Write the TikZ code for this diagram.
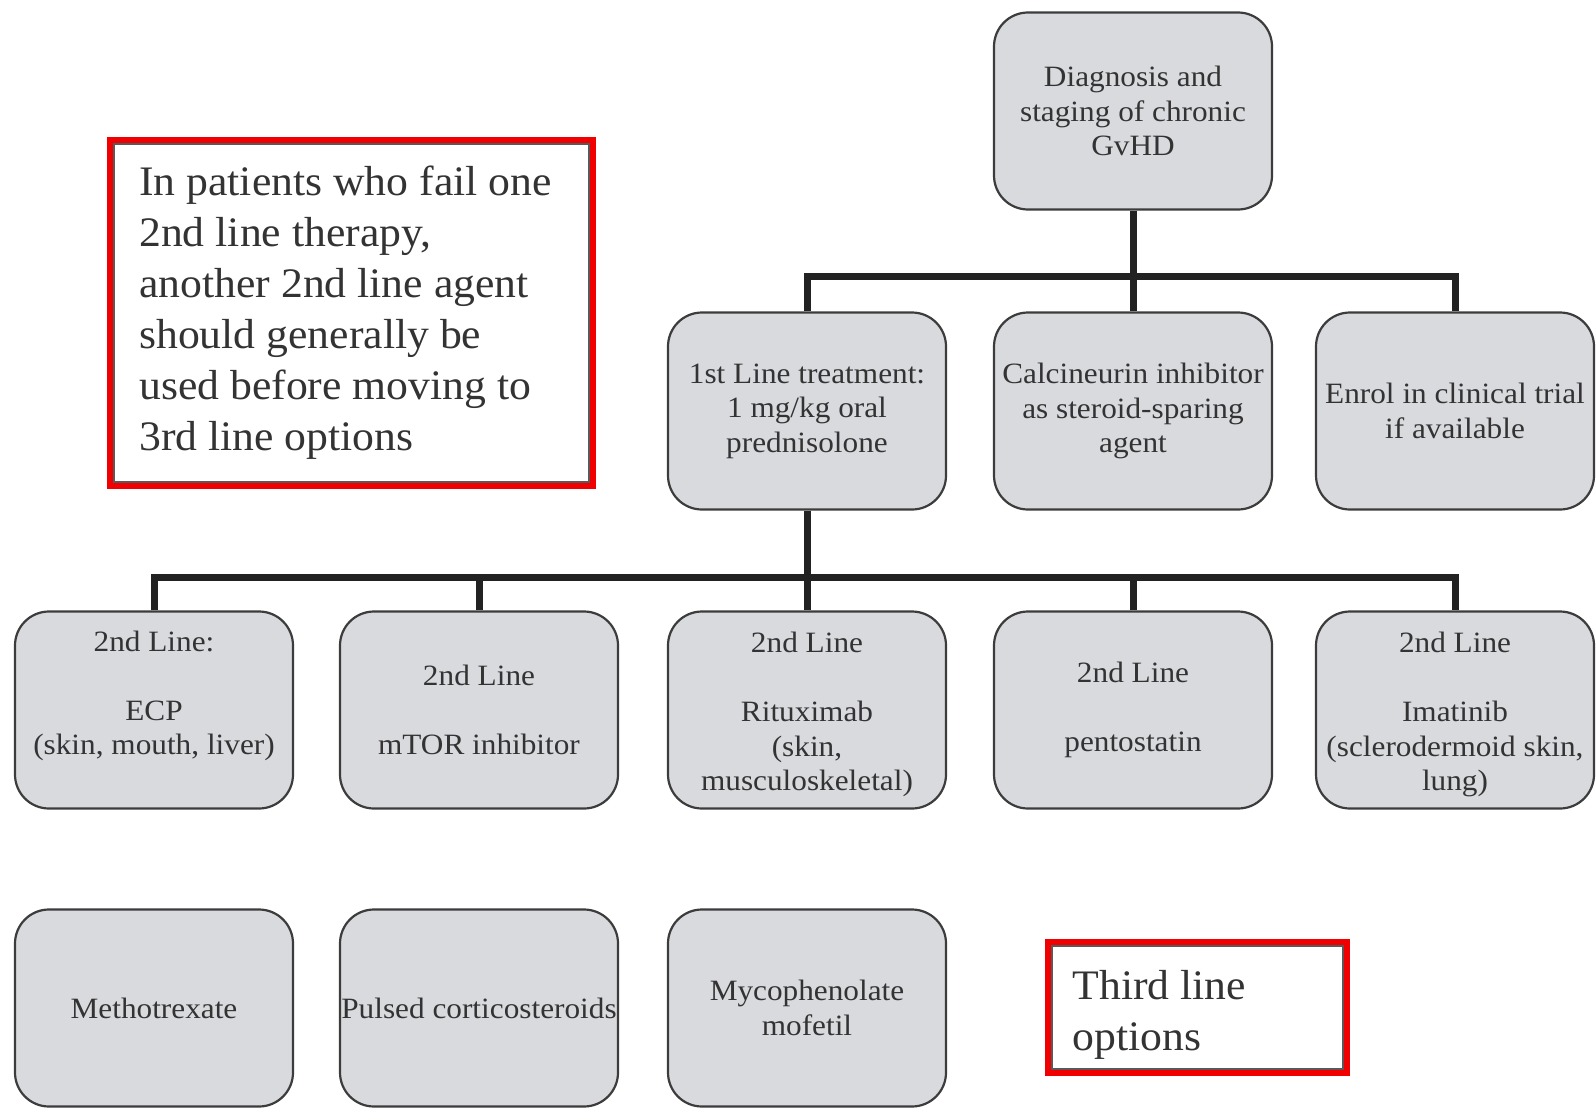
\documentclass[tikz,border=0pt]{standalone}
\usepackage{fontspec}
\setmainfont{Liberation Serif}
\newfontfamily\boxfont{Liberation Serif}[FakeStretch=1.06]
\newfontfamily\notefont{Liberation Serif}[FakeStretch=1.04]
\definecolor{boxfill}{HTML}{D9DADD}
\definecolor{boxline}{HTML}{3C3C3C}
\definecolor{txt}{HTML}{333333}
\definecolor{busc}{HTML}{222222}
\definecolor{redc}{HTML}{F00000}
\tikzset{
  gbox/.style={draw=boxline, line width=2.2pt, fill=boxfill, rounded corners=34pt,
    minimum width=278pt, minimum height=197pt, inner sep=0pt, align=center,
    text=txt, font=\boxfont\fontsize{29.5}{34.5}\selectfont},
  bus/.style={draw=busc, line width=7pt, line join=miter},
  note/.style={draw=redc, line width=6pt, inner sep=0pt, align=left, text=txt,
    font=\notefont\fontsize{42}{51}\selectfont},
}
\begin{document}
\begin{tikzpicture}[x=1pt,y=-1pt]
\useasboundingbox (0,0) rectangle (1596,1108);
\fill[white] (0,0) rectangle (1596,1108);

% top box
\node[gbox] (diag) at (1133,111) {Diagnosis and\\staging of chronic\\GvHD};
% second row
\node[gbox] (first) at (807,411) {1st Line treatment:\\1 mg/kg oral\\prednisolone};
\node[gbox] (calc) at (1133,411) {Calcineurin inhibitor\\as steroid-sparing\\agent};
\node[gbox] (trial) at (1455,411) {Enrol in clinical trial\\if available};
% third row
\node[gbox] (ecp) at (154,710) {2nd Line:\\[34.5pt]ECP\\(skin, mouth, liver)\\\mbox{}};
\node[gbox] (mtor) at (479,710) {2nd Line\\[34.5pt]mTOR inhibitor};
\node[gbox] (ritux) at (807,710) {\raisebox{-5pt}[\height][\depth]{\begin{tabular}{@{}c@{}}2nd Line\\[34.5pt]Rituximab\\(skin,\\musculoskeletal)\end{tabular}}};
\node[gbox] (pento) at (1133,710) {2nd Line\\[34.5pt]pentostatin};
\node[gbox] (imat) at (1455,710) {\raisebox{-5pt}[\height][\depth]{\begin{tabular}{@{}c@{}}2nd Line\\[34.5pt]Imatinib\\(sclerodermoid skin,\\lung)\end{tabular}}};
% fourth row
\node[gbox] (mtx) at (154,1008) {Methotrexate};
\node[gbox] (pulse) at (479,1008) {Pulsed corticosteroids};
\node[gbox] (mmf) at (807,1008) {Mycophenolate\\mofetil};

% connectors
\coordinate (b1) at (1133,276);
\coordinate (b2) at (807,577);
\draw[bus] (diag.south) -- (b1);
\draw[bus] (first.north) |- (b1) -| (trial.north);
\draw[bus] (calc.north) -- (b1);
\draw[bus] (first.south) -- (b2);
\draw[bus] (ecp.north) |- (b2) -| (imat.north);
\draw[bus] (mtor.north) |- (b2);
\draw[bus] (ritux.north) -- (b2);
\draw[bus] (pento.north) |- (b2);

% notes
\draw[gray!70!black, line width=1.5pt] (114,144) rectangle (589,482);
\node[note, minimum width=483pt, minimum height=346pt] (fail) at (351.5,313)
  {\hspace*{-6pt}\begin{tabular}{@{}l@{}}In patients who fail one\\2nd line therapy,\\another 2nd line agent\\should generally be\\used before moving to\\3rd line options\end{tabular}\hspace*{6pt}};
\draw[gray!70!black, line width=1.5pt] (1052,946) rectangle (1343,1069);
\node[note, minimum width=299pt, minimum height=131pt] (third) at (1197.5,1007.5)
  {\raisebox{-7pt}[\height][\depth]{\makebox[250pt][l]{\begin{tabular}{@{}l@{}}Third line\\options\end{tabular}}}};
\end{tikzpicture}
\end{document}
